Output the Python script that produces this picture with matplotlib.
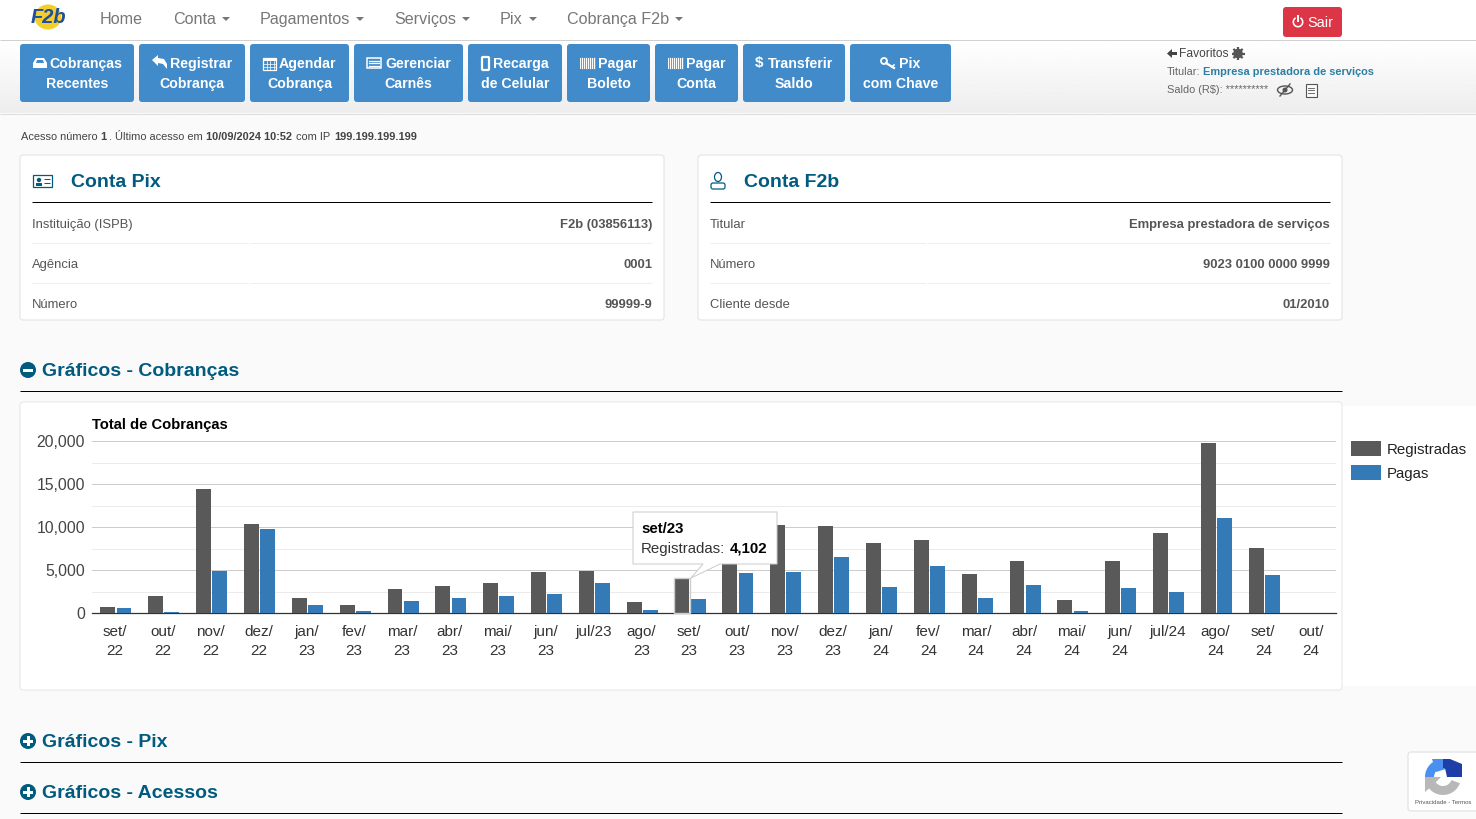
import numpy as np
import matplotlib
matplotlib.use('Agg')
import matplotlib.pyplot as plt
from matplotlib.patches import FancyBboxPatch, Rectangle, Circle, Polygon, Wedge, Ellipse

plt.rcParams['font.family'] = ['Liberation Sans', 'DejaVu Sans']

# chart data
months = ['set/\n22', 'out/\n22', 'nov/\n22', 'dez/\n22', 'jan/\n23', 'fev/\n23', 'mar/\n23', 'abr/\n23', 'mai/\n23',
          'jun/\n23', 'jul/23\n', 'ago/\n23', 'set/\n23', 'out/\n23', 'nov/\n23', 'dez/\n23', 'jan/\n24', 'fev/\n24',
          'mar/\n24', 'abr/\n24', 'mai/\n24', 'jun/\n24', 'jul/24\n', 'ago/\n24', 'set/\n24', 'out/\n24']
registradas = [720, 1950, 14450, 10350, 1720, 950, 2800, 3150, 3500, 4750, 4900, 1250, 4102, 6000, 10250, 10150,
               8100, 8450, 4550, 6050, 1500, 6050, 9350, 19750, 7600, 50]
pagas = [620, 150, 4900, 9750, 950, 220, 1400, 1750, 2000, 2200, 3500, 370, 1620, 4600, 4800, 6500,
         3050, 5450, 1750, 3250, 280, 2950, 2450, 11050, 4450, 30]
major_ticks = [0, 5000, 10000, 15000, 20000]
minor_ticks = [2500, 7500, 12500, 17500]
gray_bar = '#595959'
blue_bar = '#337ab7'

# page text
nav_items = [('Home', 100, None), ('Conta', 173, 226), ('Pagamentos', 260, 360), ('Serviços', 394, 466),
             ('Pix', 500, 533), ('Cobrança F2b', 567, 679)]
buttons = [(20, 134, 49, 'Cobranças', 'Recentes', 'inbox'), (139, 245, 170, 'Registrar', 'Cobrança', 'reply'),
           (250, 349, 279, 'Agendar', 'Cobrança', 'calendar'), (354, 463, 385, 'Gerenciar', 'Carnês', 'list'),
           (468, 562, 493, 'Recarga', 'de Celular', 'phone'), (567, 650, 598, 'Pagar', 'Boleto', 'barcode'),
           (655, 738, 686, 'Pagar', 'Conta', 'barcode'), (743, 845, 768, 'Transferir', 'Saldo', 'dollar'),
           (850, 951, 899, 'Pix', 'com Chave', 'key')]
pix_rows = [('Instituição (ISPB)', 'F2b (03856113)'), ('Agência', '0001'), ('Número', '99999-9')]
f2b_rows = [('Titular', 'Empresa prestadora de serviços'), ('Número', '9023 0100 0000 9999'), ('Cliente desde', '01/2010')]
access_parts = [(21, 'Acesso número', 'normal'), (100, '1', 'bold'), (109, '. Último acesso em', 'normal'),
                (206, '10/09/2024 10:52', 'bold'), (296, 'com IP', 'normal'), (334, '199.199.199.199', 'bold')]
teal = '#005b7f'

fig = plt.figure(figsize=(14.76, 8.19), dpi=100, facecolor='#fafafa')


def px_axes(z):
    a = fig.add_axes([0, 0, 1, 1], zorder=z)
    a.set_xlim(0, 1476)
    a.set_ylim(819, 0)
    a.axis('off')
    a.patch.set_alpha(0)
    return a


bg = px_axes(0)
top = px_axes(3)


def txt(a, x, y, s, px=13, color='#333333', weight='normal', ha='left', **kw):
    a.text(x, y + 0.7, s, fontsize=px * 0.72, color=color, fontweight=weight, ha=ha, va='center', **kw)


def box(a, x0, y0, x1, y1, fc, ec='none', r=3, lw=0.72, **kw):
    a.add_patch(FancyBboxPatch((x0 + r, y0 + r), x1 - x0 - 2 * r, y1 - y0 - 2 * r,
                               boxstyle='round,pad=%d,rounding_size=%d' % (r, r),
                               fc=fc, ec=ec, lw=lw, mutation_aspect=1, **kw))


def hline(a, x0, x1, y, color, lw=0.72):
    a.plot([x0, x1], [y, y], color=color, lw=lw, solid_capstyle='butt')


def draw_icon(a, kind, x):
    # x is the start of the label, icons sit just left of it
    c = 'white'
    if kind == 'inbox':
        a.add_patch(Polygon([(x - 16, 63), (x - 13, 58), (x - 5, 58), (x - 2, 63), (x - 2, 68), (x - 16, 68)], fc=c, ec='none'))
        a.add_patch(Polygon([(x - 13, 63), (x - 12, 60), (x - 6, 60), (x - 5, 63)], fc='#428bca', ec='none'))
    elif kind == 'reply':
        a.add_patch(Polygon([(x - 18, 60), (x - 12, 55), (x - 12, 58), (x - 6, 59), (x - 3, 64), (x - 3, 69),
                             (x - 7, 64), (x - 12, 63), (x - 12, 66)], fc=c, ec='none'))
    elif kind == 'calendar':
        a.add_patch(Rectangle((x - 16, 58), 13, 12, fc='none', ec=c, lw=0.9))
        a.add_patch(Rectangle((x - 16, 58), 13, 3, fc=c, ec='none'))
        for dx in (3.5, 7, 10.5):
            a.plot([x - 16 + dx] * 2, [61, 70], color=c, lw=0.5)
        for yy in (64, 67):
            a.plot([x - 16, x - 3], [yy, yy], color=c, lw=0.5)
    elif kind == 'list':
        a.add_patch(Rectangle((x - 18, 58), 14, 10, fc='none', ec=c, lw=1.1))
        for yy in (60.5, 63, 65.5):
            a.plot([x - 16, x - 6], [yy, yy], color=c, lw=0.9)
    elif kind == 'phone':
        a.add_patch(FancyBboxPatch((x - 11, 57), 7, 13, boxstyle='round,pad=0,rounding_size=1', fc='none', ec=c, lw=1.6))
    elif kind == 'barcode':
        for i, dx in enumerate(np.arange(0, 15, 2)):
            a.plot([x - 18.5 + dx] * 2, [58, 68], color=c, lw=1.0 if i % 2 else 0.7)
    elif kind == 'dollar':
        a.text(x - 9, 63, '$', fontsize=11, color=c, fontweight='bold', ha='center', va='center')
    elif kind == 'key':
        a.add_patch(Circle((x - 15, 61), 3, fc='none', ec=c, lw=1.3))
        a.plot([x - 13, x - 5], [63, 68], color=c, lw=1.6)
        a.plot([x - 7, x - 5], [67, 65], color=c, lw=1.2)


# header
bg.add_patch(Rectangle((0, 0), 1476, 40, fc='white', ec='none'))
bg.imshow(np.linspace(1, 0.93, 64).reshape(-1, 1), extent=(0, 1476, 113, 40), cmap='gray', vmin=0, vmax=1, aspect='auto')
bg.set_xlim(0, 1476)
bg.set_ylim(819, 0)
hline(bg, 0, 1476, 39.5, '#d0d0d0')
hline(bg, 0, 1476, 113.5, '#dcdcdc')

# logo
bg.add_patch(Ellipse((48, 17), 27, 25, fc='#f4cf2a', ec='none'))
txt(bg, 48, 16.5, 'F2b', px=20, color='#1f4f9e', weight='bold', ha='center', style='italic')

for label, x, cx in nav_items:
    txt(bg, x, 18.5, label, px=16.1, color='#777777')
    if cx:
        bg.add_patch(Polygon([(cx - 4, 17), (cx + 4, 17), (cx, 21)], fc='#777777', ec='none'))

box(bg, 1283, 7, 1342, 37, '#dc3545', r=3)
bg.add_patch(Wedge((1298, 22), 5.5, -60, 240, width=1.6, fc='white', ec='none'))
bg.add_patch(Rectangle((1297, 15), 2, 7, fc='white', ec='none'))
txt(bg, 1307.5, 22, 'Sair', px=14.5, color='white')

for x0, x1, tx, l1, l2, icon in buttons:
    box(bg, x0, 44, x1, 102, '#428bca', r=3)
    cx = (x0 + x1) / 2
    txt(bg, tx, 63, l1, px=14.1, color='white', weight='bold')
    txt(bg, cx, 83, l2, px=14.1, color='white', weight='bold', ha='center')
    draw_icon(bg, icon, tx)

txt(bg, 1179, 53, 'Favoritos', px=12, color='#444444')
bg.add_patch(Polygon([(1167, 53.5), (1172, 49), (1172, 52), (1177, 52), (1177, 55), (1172, 55), (1172, 58)], fc='#444444', ec='none'))
for ang in np.arange(0, 180, 45):
    dx, dy = 6.5 * np.cos(np.radians(ang)), 6.5 * np.sin(np.radians(ang))
    bg.plot([1238 - dx, 1238 + dx], [53.5 - dy, 53.5 + dy], color='#555555', lw=1.6, solid_capstyle='butt')
bg.add_patch(Circle((1238, 53.5), 4.8, fc='#555555', ec='none'))
bg.add_patch(Circle((1238, 53.5), 2, fc='#f4f4f4', ec='none'))
txt(bg, 1167, 71, 'Titular:', px=11, color='#666666')
txt(bg, 1203, 71, 'Empresa prestadora de serviços', px=11, color='#2a7fa5', weight='bold')
txt(bg, 1167, 89, 'Saldo (R$): **********', px=11, color='#666666')
bg.add_patch(Ellipse((1285, 90), 15, 8, fc='none', ec='#555555', lw=1))
bg.add_patch(Circle((1285, 90), 2.5, fc='#555555', ec='none'))
bg.plot([1280, 1290], [96, 84], color='#555555', lw=1)
bg.add_patch(Rectangle((1305.5, 83.5), 11, 13, fc='#fbfbfb', ec='#555555', lw=0.8))
for yy in (87.5, 90, 92.5):
    bg.plot([1308, 1314], [yy, yy], color='#555555', lw=0.6)

# access line
for x, s, w in access_parts:
    txt(bg, x, 136, s, px=11, color='#444444', weight=w)

# account cards
for x0, x1, title, tx, rows in [(20, 664, 'Conta Pix', 71, pix_rows), (698, 1342, 'Conta F2b', 744, f2b_rows)]:
    box(bg, x0, 155, x1, 320, 'white', ec='#e2e2e2', r=3)
    txt(bg, tx, 182, title, px=19.5, color=teal, weight='bold')
    hline(bg, x0 + 12, x1 - 12, 201.5, 'black')
    for yy in (242.5, 282.5):
        hline(bg, x0 + 12, x0 + 228, yy, '#eeeeee')
        hline(bg, x0 + 230, x1 - 12, yy, '#eeeeee')
    for (a, b), yy in zip(rows, (224, 264, 304)):
        txt(bg, x0 + 12, yy + 0.3, a, px=13, color='#555555')
        txt(bg, x1 - 12, yy + 0.3, b, px=13, color='#555555', weight='bold', ha='right')
# card icons
bg.add_patch(Rectangle((33, 175), 19, 12, fc='white', ec=teal, lw=0.9))
bg.add_patch(Circle((39, 180), 2.2, fc=teal, ec='none'))
bg.add_patch(Rectangle((36, 183), 6, 2.5, fc=teal, ec='none'))
hline(bg, 44, 50, 179, teal)
hline(bg, 44, 50, 183, teal)
bg.add_patch(Ellipse((718, 177), 7, 9, fc='none', ec=teal, lw=0.9))
bg.add_patch(FancyBboxPatch((711, 183), 14, 6, boxstyle='round,pad=0,rounding_size=2', fc='none', ec=teal, lw=0.9))

# section headings
for y, title, sign in [(370, 'Gráficos - Cobranças', '-'), (741, 'Gráficos - Pix', '+'), (792, 'Gráficos - Acessos', '+')]:
    bg.add_patch(Circle((28, y), 8, fc=teal, ec='none'))
    bg.add_patch(Rectangle((23, y - 1.5), 10, 3, fc='white', ec='none'))
    if sign == '+':
        bg.add_patch(Rectangle((26.5, y - 5), 3, 10, fc='white', ec='none'))
    txt(bg, 42, y + 0.8, title, px=19.5, color=teal, weight='bold')
for y in (390.5, 761.5, 812.5):
    hline(bg, 20, 1342, y, 'black')

# chart card
bg.add_patch(Rectangle((1341, 406), 135, 280, fc='white', ec='none'))
box(bg, 20, 402, 1342, 690, 'white', ec='#e6e6e6', r=3)
txt(bg, 92, 424, 'Total de Cobranças', px=14.8, color='black', weight='bold')

# chart itself
ax = fig.add_axes([92 / 1476, 1 - 613 / 819, 1244 / 1476, 172 / 819], zorder=2)
ax.patch.set_alpha(0)
x = np.arange(len(months))
ax.bar(x - 0.148, registradas, width=0.31, color=gray_bar, zorder=3)
ax.bar(x + 0.19, pagas, width=0.31, color=blue_bar, zorder=3)
ax.set_xlim(-0.48, len(months) - 0.48)
ax.set_ylim(0, 20000)
ax.set_yticks(major_ticks)
ax.set_yticklabels(['{:,}'.format(v) for v in major_ticks], fontsize=11.3, color='#444444')
ax.set_yticks(minor_ticks, minor=True)
ax.set_xticks(x)
ax.set_xticklabels(months, fontsize=11, color='#333333', linespacing=1.5)
ax.grid(axis='y', which='major', color='#cccccc', lw=0.72, zorder=0)
ax.grid(axis='y', which='minor', color='#ebebeb', lw=0.72, zorder=0)
ax.tick_params(axis='both', which='both', length=0)
ax.tick_params(axis='x', pad=8.5)
ax.tick_params(axis='y', pad=5)
for side in ('top', 'left', 'right'):
    ax.spines[side].set_visible(False)
ax.spines['bottom'].set_color('#333333')
ax.spines['bottom'].set_linewidth(0.9)

# legend
top.add_patch(Rectangle((1351, 441), 30, 15, fc=gray_bar, ec='none'))
top.add_patch(Rectangle((1351, 465), 30, 15, fc=blue_bar, ec='none'))
txt(top, 1387, 449, 'Registradas', px=15, color='#222222')
txt(top, 1387, 473, 'Pagas', px=15, color='#222222')

# tooltip
top.add_patch(Rectangle((673.5, 577.5), 16.5, 35.5, fc='none', ec='#cccccc', lw=1))
top.add_patch(Polygon([(633, 512), (777, 512), (777, 564), (720, 564), (691, 578), (703, 564), (633, 564)],
                      fc='white', ec='#cccccc', lw=0.72, joinstyle='round'))
txt(top, 641, 528, 'set/23', px=15, color='black', weight='bold')
txt(top, 641, 548, 'Registradas:', px=15, color='#333333')
txt(top, 730, 548, '{:,}'.format(registradas[12]), px=15, color='black', weight='bold')

# recaptcha badge
box(top, 1408, 752, 1490, 811, 'white', ec='#dddddd', r=3)
top.add_patch(Wedge((1443, 777), 18, 180, 270, width=9, fc='#4a90f0', ec='none'))
top.add_patch(Polygon([(1432, 759), (1446, 759), (1446, 769), (1436, 772)], fc='#4a90f0', ec='none'))
top.add_patch(Wedge((1443, 777), 18, 270, 360, width=9, fc='#1f3fa8', ec='none'))
top.add_patch(Polygon([(1443, 759), (1450, 759), (1462, 764), (1462, 777), (1447, 777)], fc='#1f3fa8', ec='none'))
top.add_patch(Wedge((1443, 777), 18, 20, 180, width=9, fc='#b8b8b8', ec='none'))
top.add_patch(Polygon([(1425, 777), (1441, 777), (1433, 785), (1425, 792)], fc='#b8b8b8', ec='none'))
txt(top, 1443, 802, 'Privacidade - Termos', px=6, color='#555555', ha='center')

fig.savefig('out.png', dpi=100, facecolor=fig.get_facecolor())
